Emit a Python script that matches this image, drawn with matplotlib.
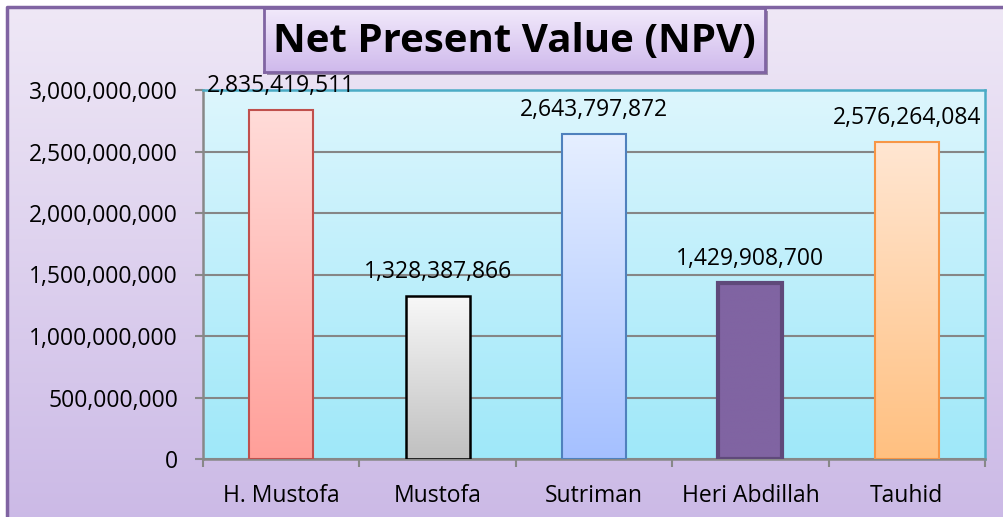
import numpy as np
import matplotlib.pyplot as plt
from matplotlib.colors import LinearSegmentedColormap
from matplotlib.patches import Rectangle
from matplotlib.ticker import FuncFormatter

plt.rcParams['font.family'] = ['Open Sans', 'DejaVu Sans']

# data
names = ['H. Mustofa', 'Mustofa', 'Sutriman', 'Heri Abdillah', 'Tauhid']
npv = [2835419511, 1328387866, 2643797872, 1429908700, 2576264084]
yticks = [0, 500000000, 1000000000, 1500000000, 2000000000, 2500000000, 3000000000]

# bar styles (top colour, bottom colour, edge colour, edge width)
bar_top = ['#ffdcd9', '#f8f8f8', '#e6efff', '#8064a2', '#ffe6d2']
bar_bot = ['#ff9f99', '#c0c0c0', '#a5c0ff', '#8064a2', '#ffc080']
bar_edge = ['#c0504d', '#000000', '#4f81bd', '#5f497a', '#f79646']
bar_lw = [1.5, 1.8, 1.5, 3.0, 1.5]

W, H = 1004, 517
fig = plt.figure(figsize=(W / 100, H / 100), dpi=100)


def vgrad(top, bot):
    cmap = LinearSegmentedColormap.from_list('g', [bot, top])
    return cmap, np.linspace(0, 1, 256).reshape(-1, 1)


# figure background
bg = fig.add_axes([0, 0, 1, 1], zorder=-10)
cm, g = vgrad('#efe8f6', '#cbb9e6')
bg.add_patch(Rectangle((0, 0), 1, 1, facecolor='white', zorder=0))
bg.imshow(g, cmap=cm, aspect='auto', origin='lower',
          extent=[7 / W, 1.02, -0.02, 1 - 7 / H], zorder=1)
bg.plot([7 / W, 7 / W, 1.02], [-0.02, 1 - 7 / H, 1 - 7 / H], color='#8064a2', lw=2.5, zorder=2)
bg.set_xlim(0, 1)
bg.set_ylim(0, 1)
bg.axis('off')

# plot area
x0, x1, ytop, ybot = 203, 985, 90, 459
ax = fig.add_axes([x0 / W, (H - ybot) / H, (x1 - x0) / W, (ybot - ytop) / H])
ax.set_facecolor('none')
cm, g = vgrad('#ddf6fd', '#9fe8f9')
ax.imshow(g, cmap=cm, aspect='auto', origin='lower', extent=[0, 1, 0, 1],
          transform=ax.transAxes, zorder=0)

x = np.arange(len(names))
bars = ax.bar(x, npv, width=0.41, zorder=3)
for i, b in enumerate(bars):
    b.set_facecolor('none')
    b.set_edgecolor(bar_edge[i])
    b.set_linewidth(bar_lw[i])
    cm, g = vgrad(bar_top[i], bar_bot[i])
    im = ax.imshow(g, cmap=cm, aspect='auto', origin='lower',
                   extent=[b.get_x(), b.get_x() + b.get_width(), 0, b.get_height()], zorder=2)
    im.set_clip_path(b)
    ax.annotate(f'{npv[i]:,}', (b.get_x() + b.get_width() / 2, b.get_height()),
                xytext=(0, 13), textcoords='offset points', ha='center', va='baseline',
                fontsize=16.5, annotation_clip=False, zorder=6)

ax.set_xlim(-0.5, len(names) - 0.5)
ax.set_ylim(0, 3000000000)
ax.set_yticks(yticks)
ax.yaxis.set_major_formatter(FuncFormatter(lambda v, p: f'{int(v):,}'))
ax.set_xticks(x)
ax.set_xticklabels(names)
ax.set_xticks(np.arange(len(names) + 1) - 0.5, minor=True)
ax.tick_params(axis='x', which='major', length=0, pad=18, labelsize=16.5)
ax.tick_params(axis='x', which='minor', length=6, width=1.5, color='#888888', direction='out')
ax.tick_params(axis='y', length=6, width=1.5, color='#888888', pad=12, labelsize=16.5)
ax.yaxis.grid(True, color='#868686', lw=1.5, zorder=1)
ax.set_axisbelow(True)
for s in ['left', 'bottom']:
    ax.spines[s].set_color('#888888')
    ax.spines[s].set_linewidth(1.8)
for s in ['top', 'right']:
    ax.spines[s].set_color('#4bacc6')
    ax.spines[s].set_linewidth(1.8)

# title box with shadow
tx0, tx1, ty0, ty1 = 264, 765, 8, 72
sh = fig.add_axes([(tx0 + 3) / W, (H - ty1 - 3) / H, (tx1 - tx0) / W, (ty1 - ty0) / H], zorder=4)
sh.set_facecolor('#9a8ca8')
sh.set_alpha(0.5)
sh.set_xticks([])
sh.set_yticks([])
for s in sh.spines.values():
    s.set_visible(False)
tb = fig.add_axes([tx0 / W, (H - ty1) / H, (tx1 - tx0) / W, (ty1 - ty0) / H], zorder=5)
cm, g = vgrad('#f2eafb', '#cfb9ec')
tb.imshow(g, cmap=cm, aspect='auto', origin='lower', extent=[0, 1, 0, 1])
tb.set_xlim(0, 1)
tb.set_ylim(0, 1)
tb.set_xticks([])
tb.set_yticks([])
for s in tb.spines.values():
    s.set_color('#8064a2')
    s.set_linewidth(2)
tb.text(0.5, 0.47, 'Net Present Value (NPV)', ha='center', va='center',
        fontsize=29, fontweight='bold')

fig.savefig('out.png', dpi=100)
